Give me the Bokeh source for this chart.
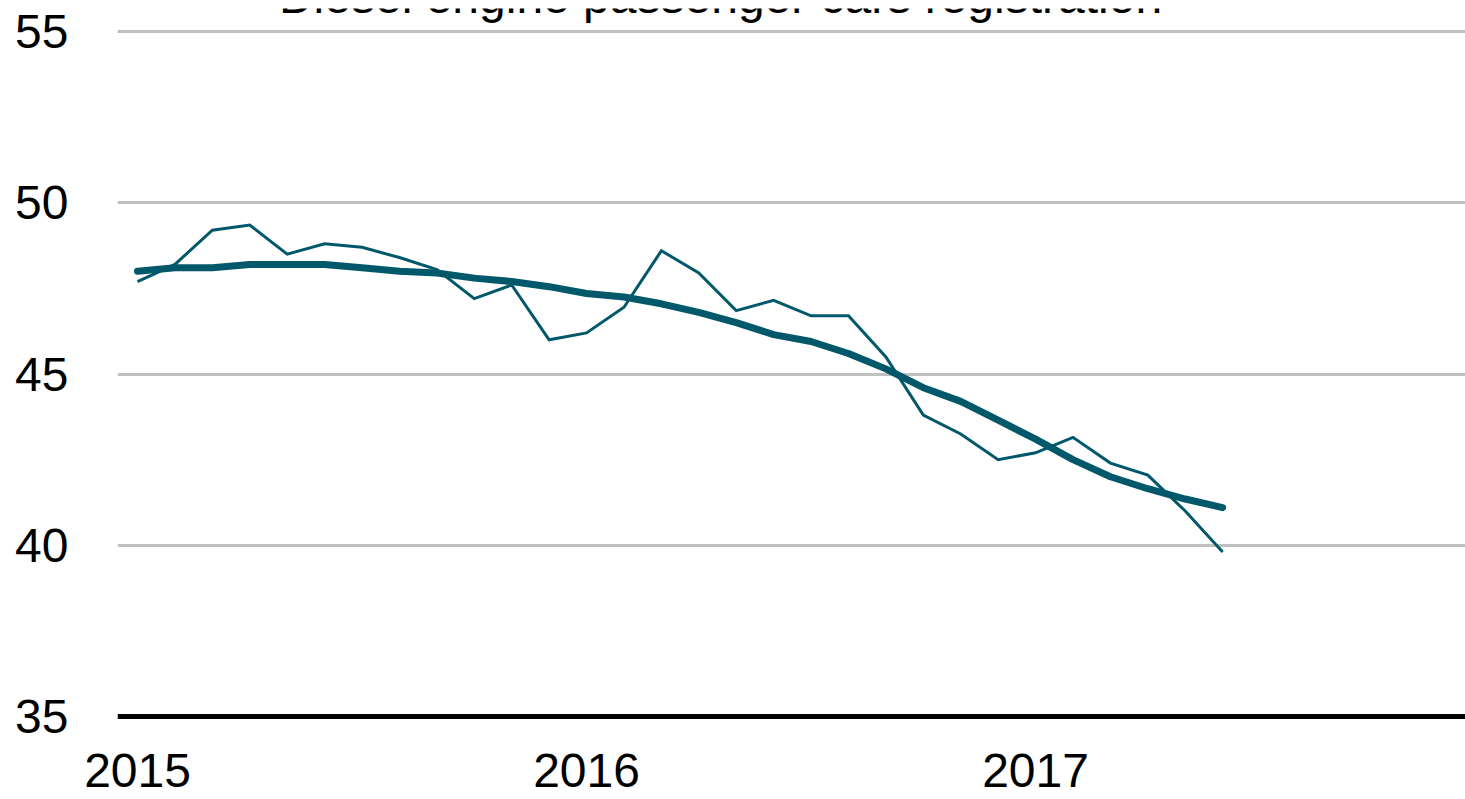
from bokeh.plotting import figure
from bokeh.models import ColumnDataSource, FixedTicker, Range1d, Span, Label
from bokeh.embed import file_html
from bokeh.resources import INLINE

# ---- data ----
month_index = list(range(30))  # Jan 2015 .. Jun 2017
monthly_share = [47.7, 48.2, 49.2, 49.35, 48.5, 48.8, 48.7, 48.4, 48.05, 47.2,
                 47.6, 46.0, 46.2, 46.95, 48.6, 47.95, 46.85, 47.15, 46.7, 46.7,
                 45.5, 43.8, 43.25, 42.5, 42.7, 43.15, 42.4, 42.05, 41.0, 39.8]
trend_share = [48.0, 48.1, 48.1, 48.2, 48.2, 48.2, 48.1, 48.0, 47.95, 47.8,
               47.7, 47.55, 47.35, 47.25, 47.05, 46.8, 46.5, 46.15, 45.95, 45.6,
               45.15, 44.6, 44.2, 43.65, 43.1, 42.5, 42.0, 41.65, 41.35, 41.1]
year_ticks = [0, 12, 24]
year_labels = ["2015", "2016", "2017"]
y_ticks = [35, 40, 45, 50, 55]
title_text = "Diesel engine passenger cars registration"
source_text = "Source:"

src = ColumnDataSource(dict(x=month_index, m=monthly_share, t=trend_share))

FONT = "Liberation Sans"
COLOR = "#00586a"

Y0, Y1 = 34.387, 55.672
p = figure(width=1465, height=799, output_backend="svg", toolbar_location=None,
           x_range=Range1d(-0.535, 35.49), y_range=Range1d(Y0, Y1),
           min_border_left=117, min_border_right=0, min_border_top=8,
           min_border_bottom=62)
p.outline_line_color = None
p.background_fill_color = "white"
p.border_fill_color = "white"

# axes
p.xaxis.ticker = FixedTicker(ticks=year_ticks)
p.xaxis.major_label_overrides = {t: l for t, l in zip(year_ticks, year_labels)}
p.yaxis.ticker = FixedTicker(ticks=y_ticks)
for ax in (p.xaxis, p.yaxis):
    ax.axis_line_color = None
    ax.major_tick_line_color = None
    ax.minor_tick_line_color = None
    ax.major_label_text_font = FONT
    ax.major_label_text_font_size = "48px"
    ax.major_label_text_color = "black"
p.xaxis.major_label_standoff = 10
p.yaxis.major_label_standoff = 43

p.xgrid.grid_line_color = None
p.ygrid.ticker = FixedTicker(ticks=[40, 45, 50, 55])
p.ygrid.grid_line_color = "#c0c0c0"
p.ygrid.grid_line_width = 3

base = Span(location=35, dimension="width", line_color="black", line_width=5)
p.add_layout(base)

p.line("x", "m", source=src, line_color=COLOR, line_width=3, line_join="miter")
p.line("x", "t", source=src, line_color=COLOR, line_width=7, line_cap="round",
       line_join="round")

p.add_layout(Label(x=15.58, y=56.03, text=title_text, text_align="center",
                   text_baseline="alphabetic", text_font=FONT,
                   text_font_size="48px", text_color="black"))
p.add_layout(Label(x=33.30, y=33.17, text=source_text, text_align="left",
                   text_baseline="top", text_font=FONT,
                   text_font_size="18px", text_color="black"))

open("out.html", "w").write(file_html(p, INLINE))
